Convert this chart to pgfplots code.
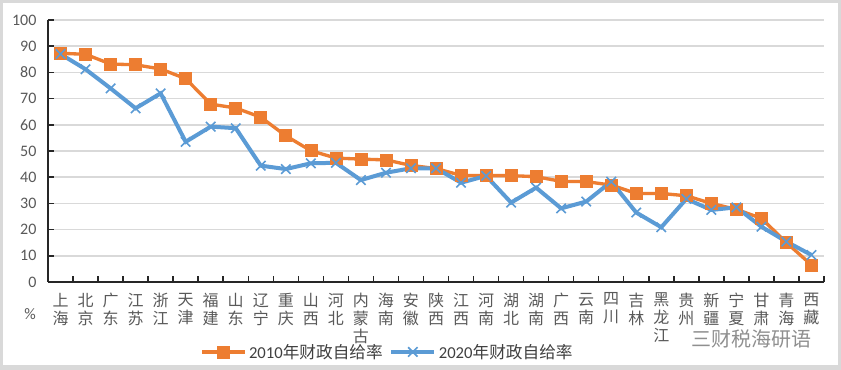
\documentclass[border=0pt]{standalone}
\usepackage{fontspec}
\setmainfont{Carlito}
\newfontfamily\cjk{Noto Sans CJK SC}
\usepackage{pgfplots}
\pgfplotsset{compat=1.18}
\definecolor{orng}{HTML}{ED7D31}
\definecolor{blu}{HTML}{5B9BD5}
\definecolor{gridc}{HTML}{D9D9D9}
\definecolor{txt}{HTML}{595959}
\definecolor{axc}{HTML}{262626}
\begin{document}
\begin{tikzpicture}
\fill[gridc] (0pt,0pt) rectangle (630.75pt,277.5pt);
\fill[white] (2.25pt,3.75pt) rectangle (628.5pt,275.6pt);
\useasboundingbox (0pt,0pt) rectangle (630.75pt,277.5pt);
\begin{axis}[
  at={(36pt,66pt)}, anchor=south west,
  scale only axis, width=582pt, height=196.5pt,
  xmin=-0.5, xmax=30.5, ymin=0, ymax=100,
  axis x line*=bottom, axis y line*=left,
  axis line style={axc, line width=1.1pt},
  tick align=inside, major tick length=4.5pt,
  tick style={axc, line width=1.1pt},
  ytick={0,10,...,100},
  ymajorgrids, grid style={gridc, line width=1.1pt},
  yticklabel style={inner sep=0pt, xshift=-8.5pt, font=\fontsize{12}{14}\selectfont, text=txt},
  /pgf/number format/assume math mode=true,
  xtick={-0.5,0.5,...,30.5}, xticklabels={},
  extra x ticks={0,1,...,30},
  extra x tick style={major tick length=0pt, tick style={draw=none},
    xticklabel style={inner sep=0pt, yshift=-8pt, anchor=north, align=center,
      font=\cjk\fontsize{12}{13.5}\selectfont, text=txt}},
  extra x tick labels={{上\\海},{北\\京},{广\\东},{江\\苏},{浙\\江},{天\\津},{福\\建},{山\\东},{辽\\宁},{重\\庆},{山\\西},{河\\北},{内\\蒙\\古},{海\\南},{安\\徽},{陕\\西},{江\\西},{河\\南},{湖\\北},{湖\\南},{广\\西},{云\\南},{四\\川},{吉\\林},{黑\\龙\\江},{贵\\州},{新\\疆},{宁\\夏},{甘\\肃},{青\\海},{西\\藏}},
  clip=false,
  legend columns=2,
  legend style={at={(0.196,-0.267)}, anchor=west, draw=none, fill=none, inner sep=0pt,
    font=\fontsize{12.5}{14}\selectfont, text=black!75,
    /tikz/every even column/.append style={column sep=3pt}},
  legend image code/.code={\draw[mark repeat=2,mark phase=2,#1] plot coordinates {(0pt,0pt) (16pt,0pt) (32pt,0pt)};},
]
\addplot[orng, line width=2.5pt, mark=square*, mark size=4.5pt, mark options={solid, line width=0.5pt, fill=orng}] coordinates {
(0,87.3)(1,86.9)(2,83.2)(3,82.9)(4,81.3)(5,77.6)(6,67.9)(7,66.4)(8,62.9)(9,55.8)
(10,50.1)(11,47.3)(12,46.9)(13,46.6)(14,44.5)(15,43.3)(16,40.7)(17,40.6)(18,40.6)(19,40.2)
(20,38.4)(21,38.3)(22,37.0)(23,33.8)(24,33.8)(25,32.9)(26,30.0)(27,27.7)(28,24.3)(29,15.0)(30,6.5)};
\addlegendentry{2010{\cjk 年财政自给率}}
\addplot[blu, line width=3pt, mark=x, mark size=5pt, mark options={solid, line width=1.2pt}] coordinates {
(0,87.0)(1,81.2)(2,73.9)(3,66.3)(4,72.0)(5,53.5)(6,59.3)(7,58.7)(8,44.4)(9,43.1)
(10,45.3)(11,45.5)(12,38.9)(13,41.7)(14,43.4)(15,43.4)(16,37.9)(17,40.5)(18,30.3)(19,36.0)
(20,28.1)(21,30.7)(22,38.3)(23,26.5)(24,20.9)(25,31.7)(26,27.5)(27,28.5)(28,21.1)(29,15.4)(30,10.3)};
\addlegendentry{2020{\cjk 年财政自给率}}
\end{axis}
\node[text=txt, font=\fontsize{12}{14}\selectfont] at (22.5pt,42pt) {\%};
\node[text=black!55, opacity=0.8, font=\cjk\fontsize{15}{17}\selectfont] at (563.25pt,23.5pt) {三财税海研语};
\end{tikzpicture}
\end{document}
